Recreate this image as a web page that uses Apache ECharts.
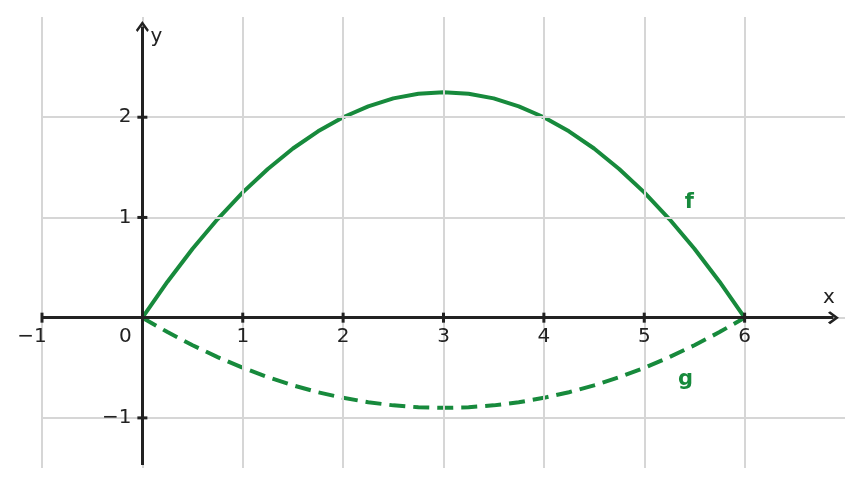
<!DOCTYPE html>
<html>
<head>
<meta charset="utf-8">
<script src="https://cdn.jsdelivr.net/npm/echarts@6/dist/echarts.min.js"></script>
<style>
  html, body { margin: 0; padding: 0; background: #fff; }
  #chart { width: 862px; height: 487px; }
</style>
</head>
<body>
<div id="chart"></div>
<script>
// values
const xs = [0, 0.25, 0.5, 0.75, 1, 1.25, 1.5, 1.75, 2, 2.25, 2.5, 2.75, 3,
  3.25, 3.5, 3.75, 4, 4.25, 4.5, 4.75, 5, 5.25, 5.5, 5.75, 6];
const fValues = [0, 0.359, 0.688, 0.984, 1.25, 1.484, 1.688, 1.859, 2, 2.109, 2.188, 2.234, 2.25,
  2.234, 2.188, 2.109, 2, 1.859, 1.688, 1.484, 1.25, 0.984, 0.688, 0.359, 0];
const gValues = [0, -0.144, -0.275, -0.394, -0.5, -0.594, -0.675, -0.744, -0.8, -0.844, -0.875, -0.894, -0.9,
  -0.894, -0.875, -0.844, -0.8, -0.744, -0.675, -0.594, -0.5, -0.394, -0.275, -0.144, 0];
const xTicks = [-1, 1, 2, 3, 4, 5, 6];
const yTicks = [-1, 1, 2];
const xGrid = [-1, 0, 1, 2, 3, 4, 5, 6];
const yGrid = [-1, 0, 1, 2];
const xAxisSpan = [-1, 6.885];
const yAxisSpan = [-1.47, 2.905];
const curveNames = ["f", "g"];
const curveLabelX = [5.45, 5.41];
const curveLabelY = [1.15, -0.615];
const axisNames = ["x", "y"];
const axisNameX = [6.84, 0.14];
const axisNameY = [0.2, 2.8];

const GREEN = "#178a3c";
const INK = "#222222";
const FONT = "DejaVu Sans";
const CHEVRON = "path://M10,0 L20,10 L17.6,12.4 L10,4.8 L2.4,12.4 L0,10 Z";

const fmt = v => String(v).replace("-", "\u2212");
const pairs = vals => xs.map((x, i) => [x, vals[i]]);
const tickText = { color: INK, fontSize: 20, fontFamily: FONT };
const solid = { color: INK, opacity: 1 };

const xLabelData = xTicks.concat([0]).map(v => ({
  value: [v, 0],
  label: { offset: [v === 0 ? -17 : (v < 0 ? -10 : 0), 0] }
}));

const chart = echarts.init(document.getElementById("chart"), null, { renderer: "canvas" });
chart.setOption({
  animation: false,
  backgroundColor: "#fff",
  textStyle: { fontFamily: FONT },
  grid: { left: 42, right: 17, top: 17, bottom: 19, containLabel: false, outerBoundsMode: "none" },
  xAxis: { type: "value", min: -1, max: 7, show: false },
  yAxis: { type: "value", min: -1.5, max: 3, show: false },
  series: [
    {
      type: "line", data: [], z: 1, silent: true,
      markLine: {
        silent: true, symbol: ["none", "none"], animation: false,
        label: { show: false },
        lineStyle: { color: "#d6d6d6", width: 2, type: "solid" },
        data: xGrid.map(v => ({ xAxis: v })).concat(yGrid.map(v => ({ yAxis: v })))
      }
    },
    {
      type: "line", data: [], z: 3, silent: true,
      markLine: {
        silent: true, animation: false,
        symbol: ["none", CHEVRON], symbolSize: [13, 11],
        label: { show: false },
        lineStyle: { color: INK, width: 3, type: "solid" },
        data: [
          [{ coord: [xAxisSpan[0], 0] }, { coord: [xAxisSpan[1], 0] }],
          [{ coord: [0, yAxisSpan[0]] }, { coord: [0, yAxisSpan[1]] }]
        ]
      }
    },
    {
      name: "f", type: "line", data: pairs(fValues), showSymbol: false, z: 4,
      lineStyle: { color: GREEN, width: 4, join: "round" }
    },
    {
      name: "g", type: "line", data: pairs(gValues), showSymbol: false, z: 4,
      lineStyle: { color: GREEN, width: 4, type: [16, 8] }
    },
    {
      type: "scatter", z: 5, silent: true,
      symbol: "rect", symbolSize: [3, 10],
      itemStyle: solid,
      data: xTicks.map(v => [v, 0])
    },
    {
      type: "scatter", z: 5, silent: true,
      symbol: "rect", symbolSize: [10, 3],
      itemStyle: solid,
      data: yTicks.map(v => [0, v])
    },
    {
      type: "scatter", z: 6, silent: true, symbolSize: 0, itemStyle: solid,
      data: xLabelData,
      label: Object.assign({ show: true, position: "bottom", distance: 9, formatter: p => fmt(p.value[0]) }, tickText)
    },
    {
      type: "scatter", z: 6, silent: true, symbolSize: 0, itemStyle: solid,
      data: yTicks.map(v => [0, v]),
      label: Object.assign({ show: true, position: "left", distance: 11, formatter: p => fmt(p.value[1]) }, tickText)
    },
    {
      type: "scatter", z: 6, silent: true, symbolSize: 0, itemStyle: solid,
      data: axisNames.map((n, i) => ({ name: n, value: [axisNameX[i], axisNameY[i]] })),
      label: Object.assign({ show: true, position: "inside", formatter: p => p.name }, tickText)
    },
    {
      type: "scatter", z: 6, silent: true, symbolSize: 0, itemStyle: { color: GREEN, opacity: 1 },
      data: curveNames.map((n, i) => ({ name: n, value: [curveLabelX[i], curveLabelY[i]] })),
      label: {
        show: true, position: "inside", formatter: p => p.name,
        color: GREEN, fontSize: 21, fontWeight: "bold", fontFamily: FONT
      }
    }
  ]
});
</script>
</body>
</html>
